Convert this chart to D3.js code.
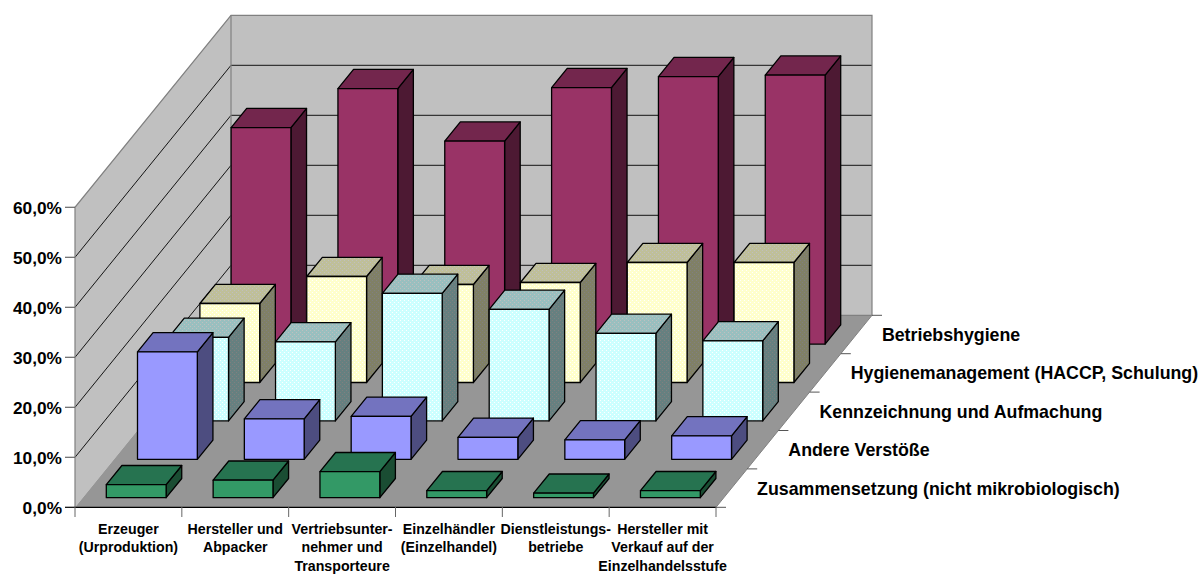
<!DOCTYPE html>
<html>
<head>
<meta charset="utf-8">
<script src="https://cdn.jsdelivr.net/npm/d3@7"></script>
<style>
  html, body { margin: 0; padding: 0; background: #fff; }
  text { font-family: "Liberation Sans", Arial, sans-serif; font-weight: bold; fill: #000; }
</style>
</head>
<body>
<script>
// Share of infringements per business type and infringement class (percent)
const categories = [
  ["Erzeuger", "(Urproduktion)"],
  ["Hersteller und", "Abpacker"],
  ["Vertriebsunter-", "nehmer und", "Transporteure"],
  ["Einzelhändler", "(Einzelhandel)"],
  ["Dienstleistungs-", "betriebe"],
  ["Hersteller mit", "Verkauf auf der", "Einzelhandelsstufe"]
];
const seriesNames = [
  "Zusammensetzung (nicht mikrobiologisch)",
  "Andere Verstöße",
  "Kennzeichnung und Aufmachung",
  "Hygienemanagement (HACCP, Schulung)",
  "Betriebshygiene"
];
const zusammensetzung = [2.6, 3.5, 5.2, 1.4, 0.9, 1.4];
const andere = [21.5, 8.1, 8.6, 4.4, 3.9, 4.7];
const kennzeichnung = [16.7, 15.8, 25.5, 22.3, 17.5, 16.0];
const hygienemanagement = [15.8, 21.2, 19.6, 20.0, 24.0, 24.0];
const betriebshygiene = [43.3, 51.1, 40.6, 51.3, 53.5, 53.8];
const valueTicks = [0, 10, 20, 30, 40, 50, 60];
const tickFormat = v => v.toFixed(1).replace(".", ",") + "%";

const seriesValues = [zusammensetzung, andere, kennzeichnung, hygienemanagement, betriebshygiene];
const palette = [
  { front: "#339966", top: "#267350", side: "#1a4d33" },
  { front: "#9999ff", top: "#7373bf", side: "#4d4d80" },
  { front: "url(#dotCyan)", top: "url(#dotCyanTop)", side: "url(#dotCyanSide)" },
  { front: "url(#dotYellow)", top: "url(#dotYellowTop)", side: "url(#dotYellowSide)" },
  { front: "#993366", top: "#73264d", side: "#4d1933" }
];

const width = 1204, height = 574;
const svg = d3.select("body").append("svg")
  .attr("width", width).attr("height", height)
  .style("display", "block");

// Oblique projection: category along x, series going into the page, value upwards
const xCat = d3.scaleLinear().domain([0, categories.length]).range([75, 716]);
const depthX = d3.scaleLinear().domain([0, seriesNames.length]).range([0, 156]);
const depthY = d3.scaleLinear().domain([0, seriesNames.length]).range([0, -192]);
const yVal = d3.scaleLinear().domain([0, 60]).range([507.3, 207.3]);
const pt = (c, d, v) => [xCat(c) + depthX(d), yVal(v) + depthY(d)];
const poly = pts => pts.map(p => p.map(n => n.toFixed(2)).join(",")).join(" ");

// Dithered fills used by the two lighter series
const defs = svg.append("defs");
function dither(id, base, dot) {
  const p = defs.append("pattern").attr("id", id)
    .attr("patternUnits", "userSpaceOnUse").attr("width", 4).attr("height", 4);
  p.append("rect").attr("width", 4).attr("height", 4).attr("fill", base);
  p.append("rect").attr("x", 0).attr("y", 0).attr("width", 1).attr("height", 1).attr("fill", dot);
  p.append("rect").attr("x", 2).attr("y", 2).attr("width", 1).attr("height", 1).attr("fill", dot);
}
dither("dotCyan", "#ccffff", "#ffffff");
dither("dotCyanTop", "#99bfbf", "#bfbfbf");
dither("dotCyanSide", "#668080", "#808080");
dither("dotYellow", "#ffffcc", "#ffffff");
dither("dotYellowTop", "#bfbf99", "#bfbfbf");
dither("dotYellowSide", "#808066", "#808080");

const nC = categories.length, nS = seriesNames.length;
const wallEdge = "#808080";

// Walls
svg.append("polygon").attr("fill", "#c0c0c0")
  .attr("points", poly([pt(0, nS, 0), pt(nC, nS, 0), pt(nC, nS, 60), pt(0, nS, 60)]));
svg.append("polygon").attr("fill", "#c0c0c0")
  .attr("points", poly([pt(0, 0, 0), pt(0, nS, 0), pt(0, nS, 60), pt(0, 0, 60)]));

// Gridlines on the back and left walls
valueTicks.slice(1, -1).forEach(v => {
  const a = pt(0, 0, v), b = pt(0, nS, v), c = pt(nC, nS, v);
  svg.append("polyline").attr("fill", "none").attr("stroke", "#000")
    .attr("stroke-width", 1).attr("opacity", 0.9)
    .attr("points", poly([a, b, c]));
});

// Floor
svg.append("polygon").attr("fill", "#969696")
  .attr("points", poly([pt(0, 0, 0), pt(nC, 0, 0), pt(nC, nS, 0), pt(0, nS, 0)]));

// Wall outlines
svg.append("polyline").attr("fill", "none").attr("stroke", wallEdge).attr("stroke-width", 1.2)
  .attr("points", poly([pt(0, 0, 0), pt(0, 0, 60), pt(0, nS, 60), pt(nC, nS, 60), pt(nC, nS, 0), pt(0, nS, 0)]));
svg.append("line").attr("stroke", wallEdge).attr("stroke-width", 1.2)
  .attr("x1", pt(0, nS, 0)[0]).attr("y1", pt(0, nS, 0)[1])
  .attr("x2", pt(0, nS, 60)[0]).attr("y2", pt(0, nS, 60)[1]);
svg.append("line").attr("stroke", "#000").attr("stroke-width", 1.2)
  .attr("x1", pt(0, 0, 0)[0]).attr("y1", pt(0, 0, 0)[1])
  .attr("x2", pt(nC, 0, 0)[0]).attr("y2", pt(nC, 0, 0)[1]);
svg.append("line").attr("stroke", wallEdge).attr("stroke-width", 1)
  .attr("x1", pt(nC, 0, 0)[0]).attr("y1", pt(nC, 0, 0)[1])
  .attr("x2", pt(nC, nS, 0)[0]).attr("y2", pt(nC, nS, 0)[1]);

// Bars, back row first so nearer rows cover them
const barW = 0.28, rowPad = 0.25;
for (let s = nS - 1; s >= 0; s--) {
  const colors = palette[s], d0 = s + rowPad, d1 = s + 1 - rowPad;
  const g = svg.append("g").attr("stroke", "#000").attr("stroke-width", 1.3)
    .attr("stroke-linejoin", "round");
  g.selectAll("g").data(seriesValues[s]).join("g").each(function (v, c) {
    const c0 = c + 0.5 - barW, c1 = c + 0.5 + barW, bar = d3.select(this);
    bar.append("polygon").attr("fill", colors.side)
      .attr("points", poly([pt(c1, d0, 0), pt(c1, d1, 0), pt(c1, d1, v), pt(c1, d0, v)]));
    bar.append("polygon").attr("fill", colors.top)
      .attr("points", poly([pt(c0, d0, v), pt(c1, d0, v), pt(c1, d1, v), pt(c0, d1, v)]));
    bar.append("polygon").attr("fill", colors.front)
      .attr("points", poly([pt(c0, d0, 0), pt(c1, d0, 0), pt(c1, d0, v), pt(c0, d0, v)]));
  });
}

// Value axis
const yAxis = svg.append("g");
valueTicks.forEach(v => {
  const y = yVal(v);
  yAxis.append("line").attr("x1", 65).attr("x2", 75).attr("y1", y).attr("y2", y)
    .attr("stroke", v === 0 ? "#000" : "#666").attr("stroke-width", 1.2);
  yAxis.append("text").attr("x", 62).attr("y", y + 6.5).attr("text-anchor", "end")
    .attr("font-size", 17.3).text(tickFormat(v));
});

// Category axis
const xAxis = svg.append("g");
d3.range(nC + 1).forEach(c => {
  const x = xCat(c);
  xAxis.append("line").attr("x1", x).attr("x2", x).attr("y1", 507).attr("y2", 517)
    .attr("stroke", "#666").attr("stroke-width", 1);
});
categories.forEach((lines, c) => {
  const t = xAxis.append("text").attr("text-anchor", "middle").attr("font-size", 14.2);
  lines.forEach((line, i) => {
    t.append("tspan").attr("x", xCat(c + 0.5)).attr("y", 533.5 + i * 18.8).text(line);
  });
});

// Series axis along the right edge of the floor
const zAxis = svg.append("g");
d3.range(nS + 1).forEach(s => {
  const [x, y] = pt(nC, s, 0);
  zAxis.append("line").attr("x1", x).attr("x2", x + 10).attr("y1", y).attr("y2", y)
    .attr("stroke", "#555").attr("stroke-width", 1);
});
seriesNames.forEach((name, s) => {
  const [x, y] = pt(nC, s + 0.5, 0);
  zAxis.append("text").attr("x", x + 25.5).attr("y", y + 6.5)
    .attr("font-size", 17.8).text(name);
});
</script>
</body>
</html>
